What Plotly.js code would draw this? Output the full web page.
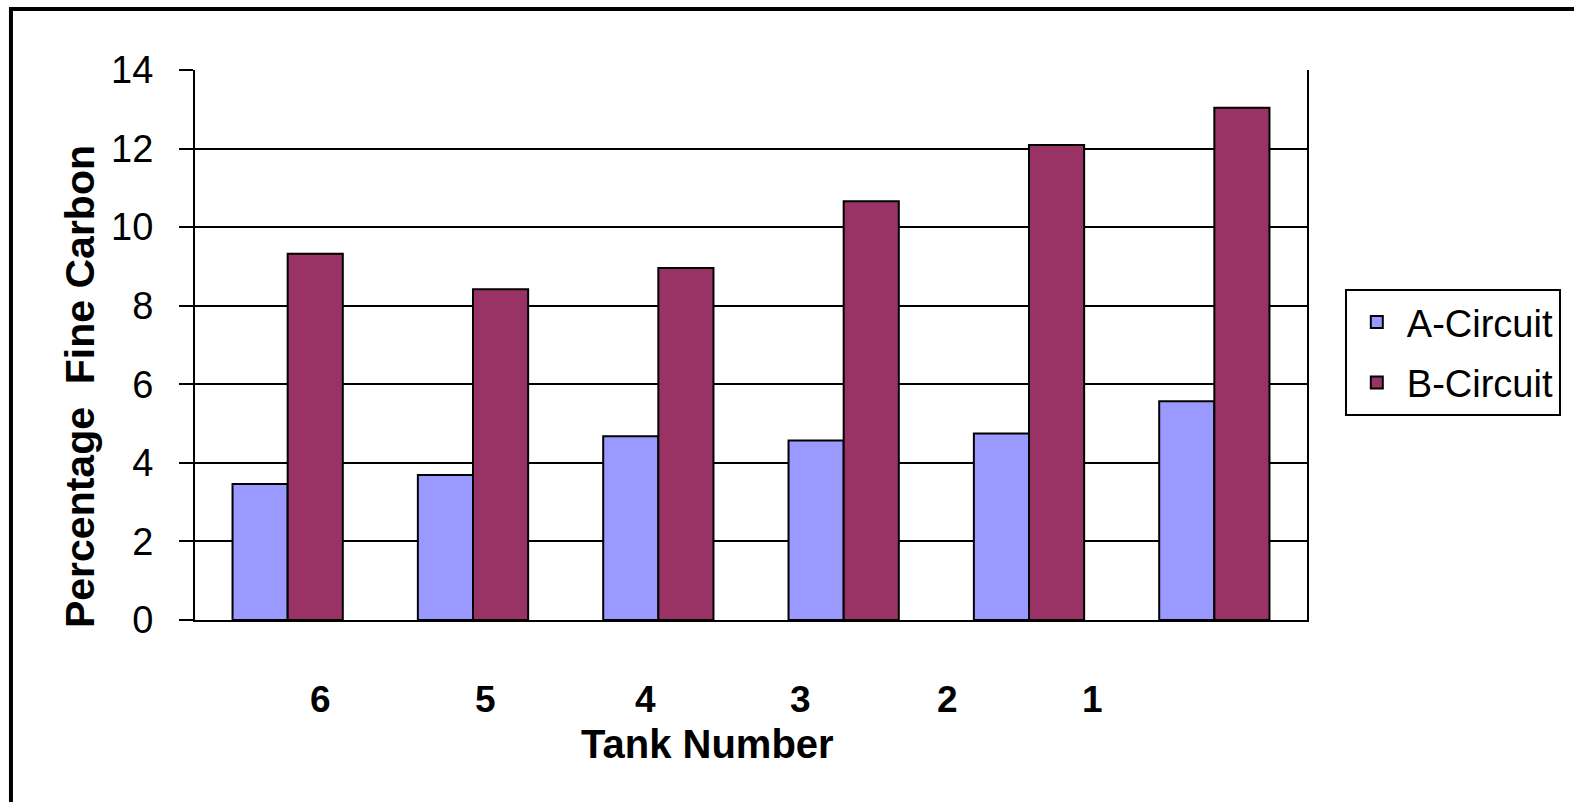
<!DOCTYPE html>
<html>
<head>
<meta charset="utf-8">
<script src="https://cdn.plot.ly/plotly-3.0.1.min.js"></script>
<style>html,body{margin:0;padding:0;background:#fff;}#chart{width:1574px;height:802px;}</style>
</head>
<body>
<div id="chart"></div>
<script>
var tanks = ["6", "5", "4", "3", "2", "1"];
var aCircuit = [3.46, 3.69, 4.68, 4.57, 4.75, 5.57];
var bCircuit = [9.32, 8.42, 8.96, 10.66, 12.09, 13.04];
var tickLabels = ["6", "5", "4", "3", "2", "1"];
var tickLabelX = [0.1133, 0.2608, 0.4047, 0.5441, 0.6763, 0.8067];

var FONT = "Liberation Sans, Arial, sans-serif";

var traces = [
  {type: "bar", name: "A-Circuit", x: tanks, y: aCircuit, legendgroup: "a",
   marker: {color: "#9999FF", line: {color: "#000", width: 2}}},
  {type: "bar", name: "B-Circuit", x: tanks, y: bCircuit, legendgroup: "b",
   marker: {color: "#993366", line: {color: "#000", width: 2}}}
];

var annotations = tickLabels.map(function (t, i) {
  return {text: "<b>" + t + "</b>", xref: "paper", yref: "paper", x: tickLabelX[i], y: -0.145,
          xanchor: "center", yanchor: "middle", showarrow: false,
          font: {family: FONT, size: 37, color: "#000"}};
});
annotations.push({text: "<b>Tank Number</b>", xref: "paper", yref: "paper", x: 0.461, y: -0.225,
  xanchor: "center", yanchor: "middle", showarrow: false, font: {family: FONT, size: 40, color: "#000"}});
annotations.push({text: "<b>Percentage  Fine Carbon</b>", xref: "paper", yref: "paper", x: -0.1034, y: 0.4236,
  xanchor: "center", yanchor: "middle", textangle: -90, showarrow: false, font: {family: FONT, size: 41, color: "#000"}});

var layout = {
  width: 1574, height: 802,
  margin: {l: 195, r: 267, t: 70, b: 182, pad: 0},
  paper_bgcolor: "#fff", plot_bgcolor: "#fff",
  barmode: "group", bargap: 0.405, bargroupgap: 0,
  font: {family: FONT, color: "#000"},
  showlegend: true,
  legend: {x: 1.034, y: 0.602, xanchor: "left", yanchor: "top",
           bordercolor: "#000", borderwidth: 2, bgcolor: "#fff", itemwidth: 50,
           font: {family: FONT, size: 38, color: "#000"}, tracegroupgap: 8},
  xaxis: {type: "category", showticklabels: false, ticks: "", showgrid: false,
          showline: true, linecolor: "#000", linewidth: 2, zeroline: false},
  yaxis: {range: [0, 14], dtick: 2, tick0: 0, ticks: "outside", ticklen: 14, tickwidth: 2, tickcolor: "#000",
          showline: true, linecolor: "#000", linewidth: 2, mirror: true,
          showgrid: true, gridcolor: "#000", gridwidth: 2, zeroline: false,
          ticklabelstandoff: 18,
          tickfont: {family: FONT, size: 38, color: "#000"}},
  annotations: annotations,
  shapes: [
    {type: "line", xref: "paper", yref: "paper", x0: -0.1655, x1: 1.25, y0: 1.1109, y1: 1.1109,
     line: {color: "#000", width: 4}},
    {type: "line", xref: "paper", yref: "paper", x0: -0.1655, x1: -0.1655, y0: 1.1145, y1: -0.34,
     line: {color: "#000", width: 4}}
  ]
};

Plotly.newPlot("chart", traces, layout, {displayModeBar: false, staticPlot: true});
</script>
</body>
</html>
